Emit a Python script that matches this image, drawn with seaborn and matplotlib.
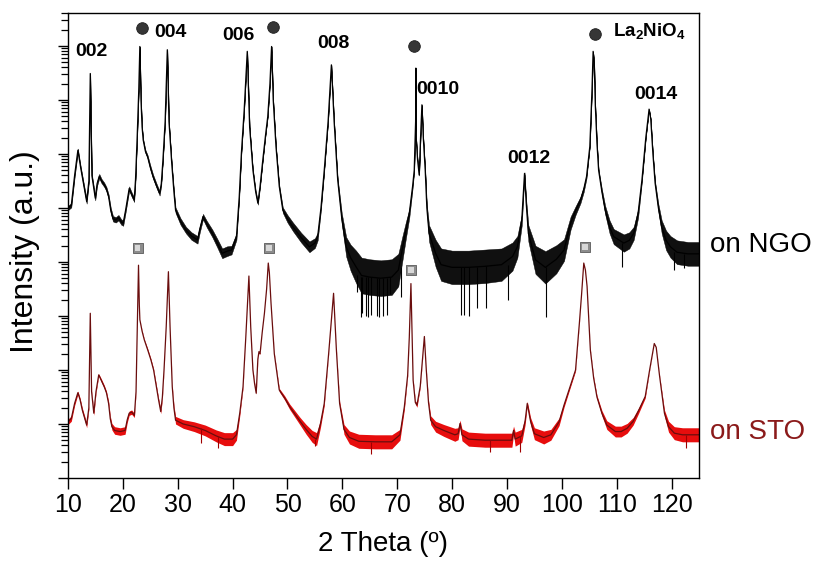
import numpy as np
import pandas as pd
import matplotlib
matplotlib.use("Agg")
import matplotlib.pyplot as plt
from matplotlib import ticker, font_manager
import seaborn as sns

# ---------------- data (2θ in degrees, intensity as log10 counts) ----------------
# La2NiO4 film on NdGaO3 (upper trace): smoothed profile and noise half-width
ngo_theta = [10.0, 10.6, 11.2, 11.8, 12.3, 12.9, 13.4, 13.8, 14.06, 14.35,
             14.97, 15.3, 15.7, 16.1, 16.6, 17.0, 17.4, 17.8, 18.2, 18.7,
             19.2, 19.7, 20.06, 20.5, 21.15, 21.6, 22.06, 22.3, 22.6, 22.9,
             23.09, 23.3, 23.5, 23.7, 24.1, 24.5, 25.0, 25.5, 26.1, 26.7,
             27.0, 27.3, 27.7, 28.1, 28.4, 28.9, 29.3, 29.6, 30.5, 31.5,
             32.5, 33.6, 34.0, 34.6, 35.3, 36.3, 37.2, 38.1, 39.0, 39.8,
             40.7, 41.2, 41.6, 42.1, 42.67, 43.1, 43.7, 44.2, 44.6, 45.0,
             45.5, 46.0, 46.4, 46.8, 47.1, 47.4, 47.9, 48.5, 49.15, 50.0,
             51.0, 52.5, 54.0, 55.0, 55.5, 56.1, 56.7, 57.4, 58.0, 58.5,
             59.15, 59.9, 60.7, 61.5, 62.5, 63.5, 65.0, 67.0, 69.0, 70.2,
             71.0, 71.6, 72.2, 72.8, 73.1, 73.35, 73.4, 73.45, 73.7, 74.0,
             74.25, 74.5, 74.75, 75.1, 75.4, 75.8, 77.0, 78.0, 80.0, 83.0,
             86.0, 89.0, 91.0, 91.9, 92.7, 93.2, 93.5, 93.9, 95.2, 97.0,
             99.0, 100.4, 101.6, 102.5, 103.4, 104.0, 104.5, 105.1, 105.5, 105.7,
             105.9, 106.1, 106.4, 106.7, 107.3, 107.9, 108.7, 109.45, 111.3, 112.3,
             113.1, 113.9, 114.6, 115.3, 115.9, 116.2, 116.6, 117.0, 117.6, 118.2,
             119.0, 119.8, 121.0, 123.0, 125.0]
ngo_logI = [5.00, 5.05, 5.60, 6.07, 5.75, 5.40, 5.12, 5.50, 7.49, 5.60,
            5.18, 5.45, 5.59, 5.50, 5.43, 5.35, 5.21, 4.95, 4.80, 4.78,
            4.82, 4.74, 4.72, 4.96, 5.36, 5.25, 5.15, 5.52, 6.30, 7.20,
            7.99, 7.00, 6.50, 6.26, 6.05, 5.95, 5.75, 5.58, 5.42, 5.27,
            5.45, 5.89, 6.60, 7.93, 6.60, 5.83, 5.30, 4.96, 4.75, 4.59,
            4.48, 4.41, 4.60, 4.84, 4.70, 4.53, 4.35, 4.16, 4.20, 4.22,
            4.47, 5.20, 6.02, 6.80, 7.90, 6.50, 5.70, 5.30, 5.09, 5.40,
            5.89, 6.35, 6.69, 7.30, 7.99, 7.00, 6.14, 5.40, 4.96, 4.80,
            4.65, 4.45, 4.28, 4.35, 4.47, 5.00, 5.70, 6.60, 7.65, 6.60,
            5.52, 4.80, 4.28, 4.08, 3.91, 3.75, 3.72, 3.70, 3.72, 3.85,
            4.28, 4.60, 4.90, 5.40, 5.70, 6.60, 7.59, 6.30, 5.90, 5.61,
            6.30, 6.91, 6.30, 5.70, 5.00, 4.53, 4.16, 3.95, 3.90, 3.90,
            3.92, 3.95, 4.10, 4.28, 4.78, 5.64, 5.10, 4.53, 4.04, 3.90,
            4.05, 4.22, 4.72, 4.95, 5.15, 5.35, 5.58, 6.14, 7.20, 7.90,
            7.70, 6.90, 6.20, 5.70, 5.30, 4.96, 4.65, 4.47, 4.35, 4.40,
            4.53, 4.90, 5.52, 6.30, 6.83, 6.65, 6.00, 5.46, 5.00, 4.65,
            4.40, 4.28, 4.18, 4.15, 4.15]
ngo_noise = [0.04, 0.04, 0.04, 0.03, 0.03, 0.04, 0.04, 0.03, 0.00, 0.03,
             0.04, 0.04, 0.04, 0.04, 0.04, 0.04, 0.04, 0.05, 0.05, 0.05,
             0.05, 0.05, 0.05, 0.04, 0.04, 0.04, 0.04, 0.03, 0.01, 0.00,
             0.00, 0.00, 0.01, 0.02, 0.03, 0.03, 0.04, 0.04, 0.04, 0.04,
             0.03, 0.02, 0.00, 0.00, 0.00, 0.02, 0.04, 0.05, 0.06, 0.06,
             0.07, 0.07, 0.06, 0.05, 0.06, 0.07, 0.08, 0.09, 0.09, 0.08,
             0.06, 0.03, 0.01, 0.00, 0.00, 0.00, 0.02, 0.03, 0.03, 0.02,
             0.01, 0.00, 0.00, 0.00, 0.00, 0.00, 0.01, 0.03, 0.05, 0.07,
             0.08, 0.09, 0.10, 0.09, 0.07, 0.04, 0.02, 0.00, 0.00, 0.00,
             0.03, 0.10, 0.18, 0.24, 0.30, 0.33, 0.33, 0.33, 0.33, 0.30,
             0.22, 0.15, 0.08, 0.04, 0.02, 0.00, 0.00, 0.00, 0.01, 0.01,
             0.00, 0.00, 0.00, 0.02, 0.06, 0.15, 0.25, 0.30, 0.31, 0.31,
             0.31, 0.30, 0.26, 0.20, 0.10, 0.02, 0.06, 0.15, 0.26, 0.30,
             0.26, 0.20, 0.12, 0.08, 0.06, 0.05, 0.03, 0.01, 0.00, 0.00,
             0.00, 0.00, 0.00, 0.02, 0.05, 0.08, 0.12, 0.14, 0.16, 0.15,
             0.12, 0.08, 0.03, 0.01, 0.00, 0.00, 0.01, 0.03, 0.07, 0.12,
             0.18, 0.20, 0.22, 0.22, 0.22]
# isolated low-count dropouts in the NGO scan
ngo_spike_theta = [62.7, 63.4, 63.6, 64.3, 64.6, 65.2, 66.4, 66.7, 67.5, 68.2,
                   68.7, 70.6, 81.6, 82.2, 83.1, 84.6, 86.1, 90.2, 97.1, 111.0,
                   120.4, 122.3]
ngo_spike_low = [3.45, 2.99, 3.05, 3.00, 2.99, 3.02, 3.00, 2.99, 3.00, 3.02,
                 3.40, 3.35, 3.02, 3.02, 3.00, 3.15, 3.15, 3.30, 2.99, 3.90,
                 3.85, 3.88]
ngo_spike_top = [3.75, 3.72, 3.72, 3.72, 3.72, 3.72, 3.70, 3.70, 3.70, 3.70,
                 3.72, 3.90, 3.90, 3.90, 3.90, 3.91, 3.92, 3.95, 3.90, 4.35,
                 4.18, 4.15]

# La2NiO4 film on SrTiO3 (lower trace)
sto_theta = [10.0, 10.6, 11.2, 11.8, 12.2, 12.6, 13.0, 13.4, 13.8, 14.06,
             14.3, 14.7, 15.1, 15.6, 16.1, 16.6, 17.0, 17.4, 17.7, 18.0,
             18.5, 19.5, 20.4, 20.8, 21.15, 21.6, 22.1, 22.4, 22.6, 22.85,
             23.0, 23.1, 23.5, 23.9, 24.5, 25.1, 25.6, 26.0, 26.5, 26.9,
             27.2, 27.5, 27.9, 28.3, 28.6, 29.0, 29.3, 29.6, 31.0, 33.0,
             35.0, 37.0, 38.5, 40.0, 40.7, 41.3, 41.9, 42.4, 42.97, 43.3,
             43.7, 44.0, 44.3, 44.6, 44.8, 45.0, 45.4, 45.8, 46.2, 46.5,
             46.7, 47.0, 47.6, 48.5, 49.5, 50.4, 52.3, 53.4, 54.5, 55.3,
             56.0, 56.7, 57.5, 58.4, 58.9, 59.5, 60.3, 61.3, 63.0, 66.0,
             69.0, 70.5, 71.3, 71.9, 72.2, 72.5, 72.7, 72.9, 73.3, 73.6,
             74.2, 74.95, 75.3, 75.7, 76.1, 77.0, 78.5, 80.5, 81.1, 81.45,
             81.8, 83.0, 86.0, 89.0, 90.9, 91.2, 91.5, 92.7, 93.3, 93.7,
             94.3, 95.0, 96.7, 98.0, 99.5, 100.4, 101.3, 102.5, 103.2, 103.6,
             104.0, 104.3, 104.6, 105.2, 105.8, 106.4, 107.3, 108.2, 109.75, 110.8,
             111.9, 113.0, 114.0, 114.6, 115.2, 116.0, 116.85, 117.2, 117.8, 118.7,
             119.45, 120.5, 122.0, 123.5, 125.0]
sto_logI = [1.04, 1.10, 1.38, 1.58, 1.45, 1.26, 1.12, 0.98, 1.30, 3.05,
            1.60, 1.20, 1.60, 1.91, 1.80, 1.69, 1.58, 1.38, 1.10, 0.95,
            0.88, 0.86, 0.88, 1.08, 1.20, 1.22, 1.16, 1.60, 2.60, 3.94,
            3.20, 2.93, 2.72, 2.56, 2.38, 2.19, 2.00, 1.75, 1.45, 1.23,
            1.50, 2.00, 2.80, 3.82, 2.80, 1.69, 1.30, 1.07, 1.00, 0.95,
            0.88, 0.78, 0.72, 0.72, 0.80, 1.20, 1.69, 2.60, 3.74, 2.80,
            2.00, 1.75, 1.57, 2.20, 2.34, 2.30, 2.70, 3.05, 3.50, 3.98,
            3.80, 3.24, 2.30, 1.63, 1.48, 1.32, 1.05, 0.90, 0.77, 0.72,
            1.00, 1.38, 2.30, 3.42, 2.40, 1.38, 0.90, 0.75, 0.68, 0.67,
            0.67, 0.80, 1.32, 1.90, 2.60, 3.60, 2.70, 1.81, 1.40, 1.35,
            1.70, 2.62, 2.00, 1.40, 1.07, 0.95, 0.88, 0.80, 0.82, 1.01,
            0.80, 0.72, 0.70, 0.70, 0.70, 0.88, 0.72, 0.78, 1.05, 1.38,
            1.05, 0.82, 0.75, 0.80, 1.04, 1.35, 1.63, 2.00, 2.87, 3.40,
            3.98, 3.85, 3.55, 2.37, 1.85, 1.50, 1.20, 0.98, 0.86, 0.86,
            0.92, 1.05, 1.25, 1.38, 1.51, 2.00, 2.49, 2.42, 1.90, 1.20,
            0.95, 0.83, 0.80, 0.80, 0.80]
sto_noise = [0.05, 0.05, 0.04, 0.03, 0.03, 0.04, 0.04, 0.05, 0.03, 0.00,
             0.02, 0.04, 0.03, 0.02, 0.03, 0.03, 0.03, 0.04, 0.05, 0.06,
             0.07, 0.07, 0.07, 0.05, 0.04, 0.04, 0.04, 0.02, 0.00, 0.00,
             0.00, 0.00, 0.01, 0.01, 0.02, 0.02, 0.02, 0.03, 0.03, 0.04,
             0.03, 0.01, 0.00, 0.00, 0.00, 0.02, 0.05, 0.07, 0.08, 0.09,
             0.10, 0.11, 0.12, 0.12, 0.10, 0.05, 0.02, 0.00, 0.00, 0.00,
             0.01, 0.02, 0.02, 0.01, 0.01, 0.01, 0.00, 0.00, 0.00, 0.00,
             0.00, 0.00, 0.01, 0.03, 0.04, 0.05, 0.07, 0.09, 0.11, 0.12,
             0.07, 0.04, 0.01, 0.00, 0.01, 0.04, 0.09, 0.12, 0.13, 0.13,
             0.13, 0.10, 0.05, 0.02, 0.00, 0.00, 0.00, 0.02, 0.03, 0.04,
             0.02, 0.00, 0.01, 0.04, 0.08, 0.10, 0.11, 0.12, 0.11, 0.06,
             0.11, 0.13, 0.13, 0.13, 0.13, 0.08, 0.13, 0.12, 0.07, 0.04,
             0.07, 0.11, 0.12, 0.10, 0.07, 0.04, 0.03, 0.02, 0.01, 0.00,
             0.00, 0.00, 0.00, 0.01, 0.02, 0.03, 0.05, 0.08, 0.10, 0.10,
             0.09, 0.07, 0.05, 0.04, 0.03, 0.01, 0.00, 0.00, 0.01, 0.06,
             0.10, 0.12, 0.13, 0.13, 0.13]
sto_spike_theta = [34.3, 37.4, 55.0, 65.2, 87.0, 92.3, 122.7]
sto_spike_low = [0.65, 0.55, 0.60, 0.45, 0.48, 0.48, 0.55]
sto_spike_top = [0.92, 0.78, 0.72, 0.67, 0.70, 0.78, 0.80]

# reflection labels of the film
peak_labels = ["002", "004", "006", "008", "0010", "0012", "0014"]
peak_label_theta = [14.27, 28.7, 41.1, 58.4, 77.4, 93.9, 117.2]
peak_label_logI = [7.90, 8.25, 8.19, 8.04, 7.19, 5.91, 7.10]

# substrate reflections: circles above NGO, squares above STO
ngo_sub_theta = [23.4, 47.45, 73.1, 106.0]
ngo_sub_logI = [8.33, 8.36, 8.00, 8.22]
sto_sub_theta = [22.67, 46.6, 72.5, 104.2]
sto_sub_logI = [4.26, 4.26, 3.85, 4.28]

x_ticks = [10, 20, 30, 40, 50, 60, 70, 80, 90, 100, 110, 120]

# ---------------- style ----------------
sns.set_theme(style="ticks")
plt.rcParams["font.family"] = ["Liberation Sans", "DejaVu Sans"]
plt.rcParams["mathtext.fontset"] = "custom"
plt.rcParams["mathtext.rm"] = "Liberation Sans"
plt.rcParams["mathtext.bf"] = "Liberation Sans:bold"
plt.rcParams["axes.linewidth"] = 1.0
plt.rcParams["text.color"] = "black"
plt.rcParams["axes.labelcolor"] = "black"
plt.rcParams["xtick.color"] = "black"
plt.rcParams["ytick.color"] = "black"
plt.rcParams["axes.edgecolor"] = "black"

installed = {f.name for f in font_manager.fontManager.ttflist}
narrow = "Liberation Sans Narrow" if "Liberation Sans Narrow" in installed else "Liberation Sans"

W, H = 818, 564
fig = plt.figure(figsize=(W / 100, H / 100), dpi=100)
ax = fig.add_axes([68 / W, 1 - 478 / H, (699 - 68) / W, (478 - 13) / H])

ngo = pd.DataFrame({"theta": ngo_theta,
                    "I": np.power(10.0, ngo_logI),
                    "lo": np.power(10.0, np.array(ngo_logI) - np.array(ngo_noise)),
                    "hi": np.power(10.0, np.array(ngo_logI) + np.array(ngo_noise))})
sto = pd.DataFrame({"theta": sto_theta,
                    "I": np.power(10.0, sto_logI),
                    "lo": np.power(10.0, np.array(sto_logI) - np.array(sto_noise)),
                    "hi": np.power(10.0, np.array(sto_logI) + np.array(sto_noise))})

# NGO trace
sns.lineplot(data=ngo, x="theta", y="I", ax=ax, color="black", lw=0.9,
             estimator=None, sort=False)
ax.fill_between(ngo["theta"], ngo["lo"], ngo["hi"], color="#101010", lw=0.3,
                edgecolor="black")
ax.vlines(ngo_spike_theta, np.power(10.0, ngo_spike_low), np.power(10.0, ngo_spike_top),
          color="black", lw=0.8)

# STO trace: smoothed line under the raw-count band
sns.lineplot(data=sto, x="theta", y="I", ax=ax, color="#6a0d0d", lw=0.9,
             estimator=None, sort=False)
ax.fill_between(sto["theta"], sto["lo"], sto["hi"], color="#e60000", lw=0, alpha=0.95)
ax.vlines(sto_spike_theta, np.power(10.0, sto_spike_low), np.power(10.0, sto_spike_top),
          color="#a00000", lw=0.8)

# substrate markers
sns.scatterplot(x=ngo_sub_theta, y=np.power(10.0, ngo_sub_logI), ax=ax, marker="o",
                s=70, color="#363636", edgecolor="#1e1e1e", linewidth=0.6, zorder=5)
sns.scatterplot(x=sto_sub_theta, y=np.power(10.0, sto_sub_logI), ax=ax, marker="s",
                s=55, color="#8c8c8c", edgecolor="#5a5a5a", linewidth=0.6, zorder=5)
sns.scatterplot(x=sto_sub_theta, y=np.power(10.0, sto_sub_logI), ax=ax, marker="s",
                s=18, color="#d8d8d8", edgecolor="none", linewidth=0, zorder=6)

# reflection labels
for lab, tx, ly in zip(peak_labels, peak_label_theta, peak_label_logI):
    ax.text(tx, 10 ** ly, lab, ha="center", va="center", fontsize=14,
            fontweight="bold", color="black", zorder=7)
ax.text(116.0, 10 ** 8.28, r"$\mathbf{La_2NiO_4}$", ha="center", va="center",
        fontsize=13.5, color="black", zorder=7)

# axes
ax.set_yscale("log")
ax.set_xlim(10, 125)
ax.set_ylim(1, 10 ** 8.61)
ax.yaxis.set_major_locator(ticker.LogLocator(base=10, numticks=20))
ax.yaxis.set_minor_locator(ticker.LogLocator(base=10, subs=np.arange(2, 10), numticks=20))
ax.yaxis.set_major_formatter(ticker.NullFormatter())
ax.yaxis.set_minor_formatter(ticker.NullFormatter())
ax.set_xticks(x_ticks)
ax.xaxis.set_minor_locator(ticker.NullLocator())
ax.tick_params(axis="x", direction="out", length=8, width=1.0, pad=3,
               labelsize=18, colors="black")
ax.tick_params(axis="y", which="major", direction="out", length=7, width=1.0)
ax.tick_params(axis="y", which="minor", direction="out", length=5, width=0.9)
for lbl in ax.get_xticklabels():
    lbl.set_fontfamily(narrow)
for sp in ax.spines.values():
    sp.set_visible(True)
    sp.set_color("black")
    sp.set_linewidth(1.0)

ax.set_xlabel("2 Theta (º)", fontsize=20, family=narrow, color="black")
ax.set_ylabel("Intensity (a.u.)", fontsize=23, color="black")
ax.xaxis.set_label_coords(0.5, -0.115)
ax.xaxis.label.set_va("top")
ax.yaxis.set_label_coords(-0.044, 0.486)

fig.text(710 / W, 1 - 245 / H, "on NGO", ha="left", va="center", fontsize=20,
         color="black")
fig.text(710 / W, 1 - 432 / H, "on STO", ha="left", va="center", fontsize=20,
         color="#8b1a1a")

fig.savefig("out.png", dpi=100)
